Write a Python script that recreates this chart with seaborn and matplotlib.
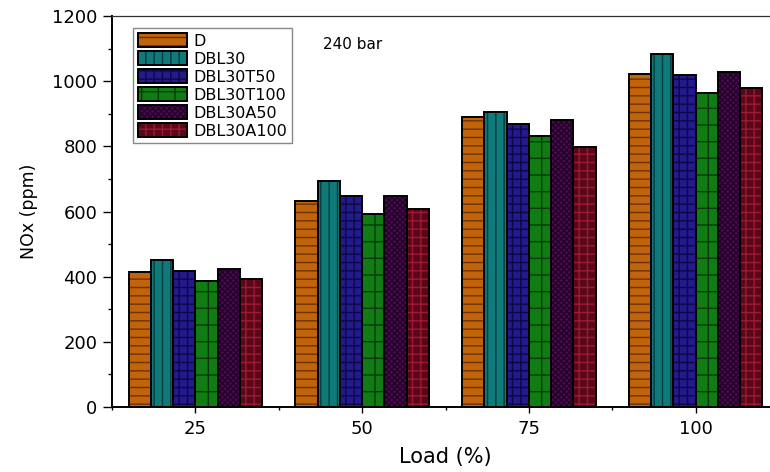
import numpy as np
import pandas as pd
import seaborn as sns
import matplotlib
matplotlib.use("Agg")
import matplotlib.pyplot as plt
from matplotlib.patches import Patch, Rectangle

# ---- data ----
loads = ['25', '50', '75', '100']
fuels = ['D', 'DBL30', 'DBL30T50', 'DBL30T100', 'DBL30A50', 'DBL30A100']
nox_D = [413, 633, 890, 1023]
nox_DBL30 = [452, 695, 905, 1084]
nox_DBL30T50 = [416, 649, 870, 1020]
nox_DBL30T100 = [388, 591, 832, 964]
nox_DBL30A50 = [423, 648, 881, 1028]
nox_DBL30A100 = [394, 607, 798, 980]
series = [nox_D, nox_DBL30, nox_DBL30T50, nox_DBL30T100, nox_DBL30A50, nox_DBL30A100]

# ---- style ----
face_colors = ['#C0630A', '#107A7A', '#241A8C', '#117C14', '#4A0C4C', '#5A0818']
hatch_colors = ['#6B3300', '#063B3B', '#0A0845', '#053A07', '#22002A', '#A01838']
hatches = ['--', '||', '++', '+', 'xxxxxx', '++']

sns.set_style('ticks')
plt.rcParams['font.family'] = ['DejaVu Sans']
plt.rcParams['hatch.linewidth'] = 1.0
for k in ['text.color', 'axes.labelcolor', 'xtick.color', 'ytick.color', 'axes.edgecolor']:
    plt.rcParams[k] = 'black'

df = pd.DataFrame({
    'Load': [l for s in series for l in loads],
    'Fuel': [f for f, s in zip(fuels, series) for _ in s],
    'NOx': [v for s in series for v in s],
})

fig = plt.figure(figsize=(7.7, 4.72), dpi=100)
ax = fig.add_axes([0.1455, 0.1377, 0.8662, 0.8284])

sns.barplot(data=df, x='Load', y='NOx', hue='Fuel', order=loads, hue_order=fuels,
            palette=face_colors, saturation=1, errorbar=None, linewidth=0,
            legend=False, ax=ax)

for i, cont in enumerate(ax.containers):
    for bar in cont:
        bar.set_hatch(hatches[i])
        bar.set_edgecolor(hatch_colors[i])
        bar.set_linewidth(0)
        ax.add_patch(Rectangle((bar.get_x(), bar.get_y()), bar.get_width(), bar.get_height(),
                               fill=False, ec='black', lw=1.4, zorder=bar.get_zorder() + 0.1))

ax.set_xlim(-0.5, 3.5)
ax.set_ylim(0, 1200)
ax.set_yticks(np.arange(0, 1201, 200))
ax.set_yticks(np.arange(100, 1200, 200), minor=True)
ax.set_xticks([-0.5, 0.5, 1.5, 2.5, 3.5], minor=True)

ax.tick_params(axis='y', which='major', length=6.5, width=1.0, labelsize=13, pad=4)
ax.tick_params(axis='y', which='minor', length=3, width=1.0)
ax.tick_params(axis='x', which='major', length=4.5, width=1.0, labelsize=13, pad=5)
ax.tick_params(axis='x', which='minor', length=2.5, width=1.0)

for side in ['left', 'bottom']:
    ax.spines[side].set_linewidth(1.4)
    ax.spines[side].set_color('black')
ax.spines['top'].set_linewidth(0.9)
ax.spines['top'].set_color('#333333')
ax.spines['right'].set_visible(False)

ax.set_xlabel('Load (%)', fontsize=15, labelpad=6)
ax.set_ylabel('NOx (ppm)', fontsize=12.5, labelpad=10)

ax.text(0.316, 0.926, '240 bar', transform=ax.transAxes, fontsize=11, va='center', ha='left')

handles = [(Patch(facecolor=fc, edgecolor=hc, hatch=h, lw=0),
            Patch(fill=False, edgecolor='black', lw=1.4))
           for fc, hc, h in zip(face_colors, hatch_colors, hatches)]
leg = ax.legend(handles, fuels, loc='upper left', bbox_to_anchor=(0.031, 0.969),
                fontsize=11.5, frameon=True, fancybox=False, framealpha=1,
                edgecolor='#888888', handlelength=3.1, handleheight=1.0,
                labelspacing=0.15, borderpad=0.3, handletextpad=0.4, borderaxespad=0)
leg.get_frame().set_linewidth(1.0)

fig.savefig('out.png', dpi=100)
